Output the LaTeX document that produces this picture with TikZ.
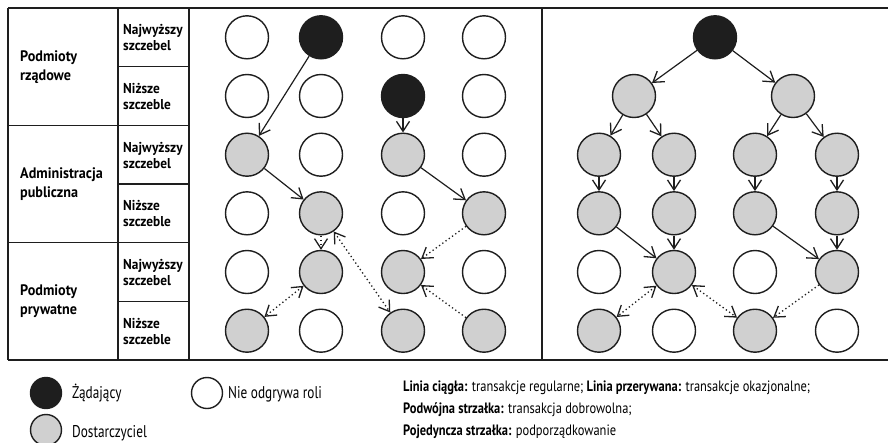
\documentclass[tikz,border=0pt]{standalone}
\usepackage{fontspec}
\setmainfont{PT Sans}
\newfontfamily\tabfont[FakeStretch=0.93]{PT Sans}
\newfontfamily\legfont[FakeStretch=0.78]{PT Sans}
\newfontfamily\notefont[FakeStretch=0.83]{PT Sans}
\usetikzlibrary{arrows.meta}

\definecolor{ink}{HTML}{1E1E1E}
\definecolor{supply}{HTML}{D0D0D0}

\tikzset{
  actor/.style={circle, draw=ink, line width=1.4pt, minimum size=43pt, inner sep=0pt},
  demand/.style={actor, fill=ink},
  supplier/.style={actor, fill=supply},
  idle/.style={actor, fill=white},
  keyactor/.style={actor, minimum size=31pt},
  barb/.tip={Straight Barb[length=10pt,width=13pt,line width=1.3pt]},
  regular/.style={draw=ink, line width=1.2pt, -barb},
  casual/.style={draw=ink, line width=1.3pt, dash pattern=on 1.3pt off 2.7pt, -barb},
  casualboth/.style={casual, barb-barb},
  rule/.style={draw=ink, line width=1.4pt},
  grouplabel/.style={anchor=west, align=left, inner sep=0pt,
    font=\tabfont\bfseries\fontsize{15.2}{18.5}\selectfont},
  levellabel/.style={anchor=west, align=left, inner sep=0pt,
    font=\tabfont\bfseries\fontsize{14.3}{16}\selectfont},
  keytext/.style={anchor=base west, inner sep=0pt,
    font=\legfont\fontsize{17}{20}\selectfont},
  notetext/.style={anchor=base west, inner sep=0pt,
    font=\notefont\fontsize{15}{18}\selectfont},
}

\begin{document}
\begin{tikzpicture}[x=1pt, y=-1pt]
\useasboundingbox (0,0) rectangle (888,442);

% ---- table frame ----
\draw[rule, line width=1.8pt] (8,8) -- (888,8);
\draw[rule] (8,360) -- (888,360);
\draw[rule] (8,8) -- (8,360);
\draw[rule] (118,8) -- (118,360);
\draw[rule] (189,8) -- (189,360);
\draw[rule] (542,8) -- (542,360);
\draw[rule] (8,125.3) -- (189,125.3);
\draw[rule] (8,242.7) -- (189,242.7);
\draw[rule] (118,66.7) -- (189,66.7);
\draw[rule] (118,184) -- (189,184);
\draw[rule] (118,301.3) -- (189,301.3);

% ---- row headers ----
\node[grouplabel] (g1) at (20,67) {Podmioty\\rządowe};
\node[grouplabel] (g2) at (20,184) {Administracja\\publiczna};
\node[grouplabel] (g3) at (20,301.3) {Podmioty\\prywatne};

\node[levellabel] (s1) at (123,38) {Najwyższy\\szczebel};
\node[levellabel] (s2) at (123,96.7) {Niższe\\szczeble};
\node[levellabel] (s3) at (123,155.4) {Najwyższy\\szczebel};
\node[levellabel] (s4) at (123,214) {Niższe\\szczeble};
\node[levellabel] (s5) at (123,272.7) {Najwyższy\\szczebel};
\node[levellabel] (s6) at (123,331.4) {Niższe\\szczeble};

% ---- left panel: actors ----
\node[idle]     (a11) at (247,37.3)  {};
\node[demand]   (a21) at (321,37.3)  {};
\node[idle]     (a31) at (403,37.3)  {};
\node[idle]     (a41) at (484,37.3)  {};
\node[idle]     (a12) at (247,96)    {};
\node[idle]     (a22) at (321,96)    {};
\node[demand]   (a32) at (403,96)    {};
\node[idle]     (a42) at (484,96)    {};
\node[supplier] (a13) at (247,154.7) {};
\node[idle]     (a23) at (321,154.7) {};
\node[supplier] (a33) at (403,154.7) {};
\node[idle]     (a43) at (484,154.7) {};
\node[idle]     (a14) at (247,213.3) {};
\node[supplier] (a24) at (321,213.3) {};
\node[idle]     (a34) at (403,213.3) {};
\node[supplier] (a44) at (484,213.3) {};
\node[idle]     (a15) at (247,272)   {};
\node[supplier] (a25) at (321,272)   {};
\node[supplier] (a35) at (403,272)   {};
\node[idle]     (a45) at (484,272)   {};
\node[supplier] (a16) at (247,330.7) {};
\node[idle]     (a26) at (321,330.7) {};
\node[supplier] (a36) at (403,330.7) {};
\node[supplier] (a46) at (484,330.7) {};

% ---- left panel: links ----
\draw[regular] (a21) -- (a13);
\draw[regular] (a32) -- (a33);
\draw[regular] (a13) -- (a24);
\draw[regular] (a33) -- (a44);
\draw[casual] (a24) -- (a25);
\draw[casualboth] (a24) -- (a36);
\draw[casual] (a44) -- (a35);
\draw[casualboth] (a25) -- (a16);
\draw[casual] (a46) -- (a35);

% ---- right panel: actors ----
\node[demand]   (b0)  at (715,37.3)  {};
\node[supplier] (b1)  at (634,96)    {};
\node[supplier] (b2)  at (793,96)    {};
\node[supplier] (b13) at (599,154.7) {};
\node[supplier] (b23) at (674,154.7) {};
\node[supplier] (b33) at (755,154.7) {};
\node[supplier] (b43) at (837,154.7) {};
\node[supplier] (b14) at (599,213.3) {};
\node[supplier] (b24) at (674,213.3) {};
\node[supplier] (b34) at (755,213.3) {};
\node[supplier] (b44) at (837,213.3) {};
\node[idle]     (b15) at (599,272)   {};
\node[supplier] (b25) at (674,272)   {};
\node[idle]     (b35) at (755,272)   {};
\node[supplier] (b45) at (837,272)   {};
\node[supplier] (b16) at (599,330.7) {};
\node[idle]     (b26) at (674,330.7) {};
\node[supplier] (b36) at (755,330.7) {};
\node[idle]     (b46) at (837,330.7) {};

% ---- right panel: links ----
\draw[regular] (b0) -- (b1);
\draw[regular] (b0) -- (b2);
\draw[regular] (b1) -- (b13);
\draw[regular] (b1) -- (b23);
\draw[regular] (b2) -- (b33);
\draw[regular] (b2) -- (b43);
\draw[regular] (b13) -- (b14);
\draw[regular] (b23) -- (b24);
\draw[regular] (b33) -- (b34);
\draw[regular] (b43) -- (b44);
\draw[regular] (b14) -- (b25);
\draw[regular] (b24) -- (b25);
\draw[regular] (b34) -- (b45);
\draw[regular] (b44) -- (b45);
\draw[casualboth] (b25) -- (b16);
\draw[casualboth] (b25) -- (b36);
\draw[casual] (b45) -- (b36);

% ---- key ----
\node[keyactor, fill=ink]    (kd) at (46,393) {};
\node[keyactor, fill=supply] (ks) at (46,430) {};
\node[keyactor, fill=white]  (ki) at (207,393) {};
\node[keytext] (kdt) at (72,398) {Żądający};
\node[keytext] (kst) at (72,437) {Dostarczyciel};
\node[keytext] (kit) at (228,398) {Nie odgrywa roli};

\node[notetext] (n1) at (403,391) {\bfseries Linia ciągła:\mdseries{} transakcje regularne; \bfseries Linia przerywana:\mdseries{} transakcje okazjonalne;};
\node[notetext] (n2) at (403,413) {\bfseries Podwójna strzałka:\mdseries{} transakcja dobrowolna;};
\node[notetext] (n3) at (403,435) {\bfseries Pojedyncza strzałka:\mdseries{} podporządkowanie};
\end{tikzpicture}
\end{document}
